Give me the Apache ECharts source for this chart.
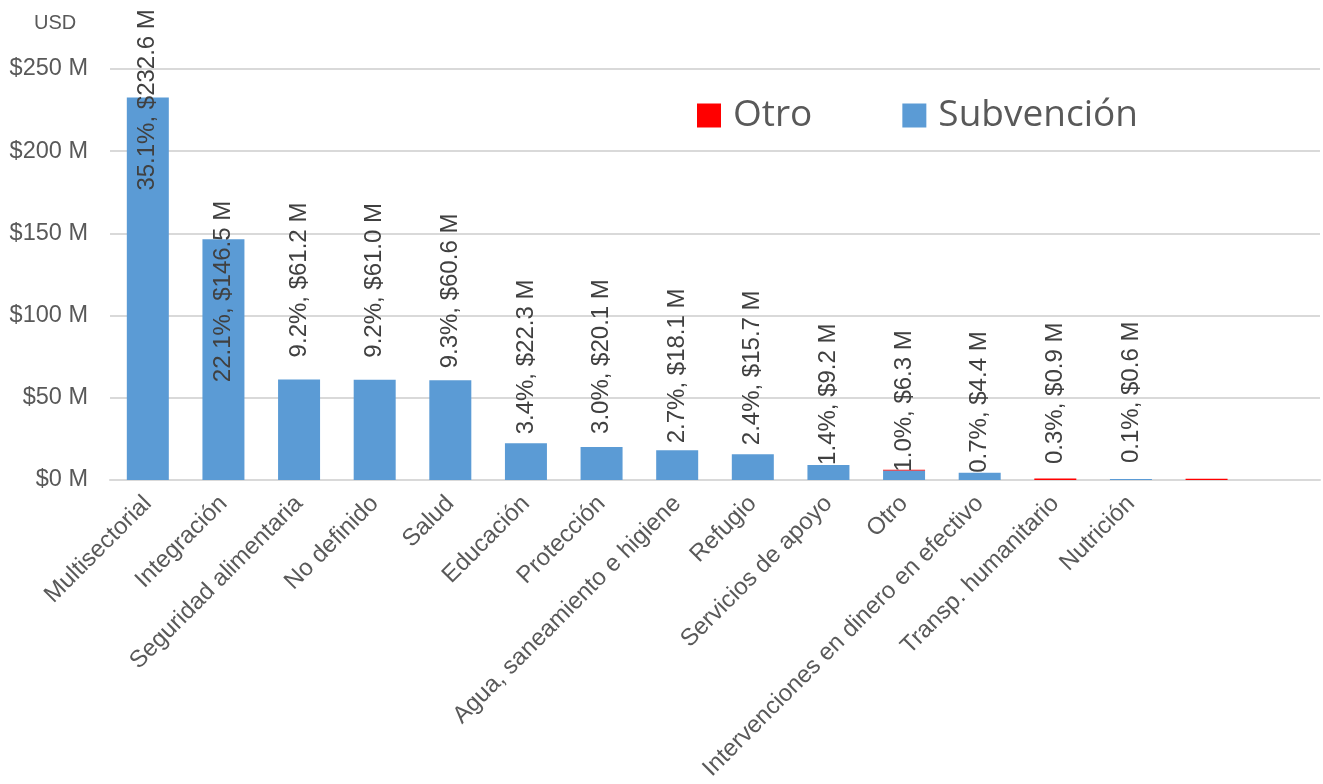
<!DOCTYPE html>
<html>
<head>
<meta charset="utf-8">
<script src="https://cdn.jsdelivr.net/npm/echarts@6/dist/echarts.min.js"></script>
<style>
  html, body { margin: 0; padding: 0; background: #ffffff; }
  #chart { width: 1323px; height: 784px; }
</style>
</head>
<body>
<div id="chart"></div>
<script>
// ---- data ----
const categories = [
  'Multisectorial', 'Integración', 'Seguridad alimentaria', 'No definido', 'Salud',
  'Educación', 'Protección', 'Agua, saneamiento e higiene', 'Refugio', 'Servicios de apoyo',
  'Otro', 'Intervenciones en dinero en efectivo', 'Transp. humanitario', 'Nutrición', '', ''
];
const subvencion = [232.6, 146.5, 61.2, 61.0, 60.6, 22.3, 20.1, 18.1, 15.7, 9.2, 5.7, 4.4, 0, 0.6, 0, 0];
const otro       = [0, 0, 0, 0, 0, 0, 0, 0, 0, 0, 0.6, 0, 0.9, 0, 0.7, 0];
const shares     = ['35.1%', '22.1%', '9.2%', '9.2%', '9.3%', '3.4%', '3.0%', '2.7%', '2.4%', '1.4%', '1.0%', '0.7%', '0.3%', '0.1%', '', ''];
const totals     = [232.6, 146.5, 61.2, 61.0, 60.6, 22.3, 20.1, 18.1, 15.7, 9.2, 6.3, 4.4, 0.9, 0.6, null, null];
const yTicks     = { min: 0, max: 250, interval: 50 };

// ---- label placement (style only) ----
const labelDistance = [-93, -143, 22, 22, 12, 9, 13, 7, 9, 0, -1, 0, 16, 16, 0, 0];

const AX = 'Liberation Sans, Arial, sans-serif';
const grey = '#595959';

const subData = subvencion.map((v, i) => ({
  value: v,
  label: { distance: labelDistance[i] }
}));

const chart = echarts.init(document.getElementById('chart'), null, { renderer: 'canvas' });
chart.setOption({
  animation: false,
  backgroundColor: '#ffffff',
  title: {
    text: 'USD', left: 29, top: 8,
    textStyle: { fontFamily: AX, fontSize: 20, fontWeight: 'normal', color: grey }
  },
  legend: {
    data: ['Otro', 'Subvención'],
    left: 692, top: 92,
    icon: 'rect', itemWidth: 24, itemHeight: 24, itemGap: 90,
    selectedMode: false,
    textStyle: { fontFamily: 'Open Sans, sans-serif', fontSize: 37, color: grey, padding: [0, 0, 0, 7] }
  },
  grid: { left: 110, right: 3, top: 69, bottom: 304, containLabel: false },
  xAxis: {
    type: 'category',
    data: categories,
    axisTick: { show: false },
    axisLine: { lineStyle: { color: '#d9d9d9', width: 2 } },
    axisLabel: { rotate: 45, interval: 0, margin: 20, fontFamily: AX, fontSize: 24, color: grey }
  },
  yAxis: {
    type: 'value',
    min: yTicks.min, max: yTicks.max, interval: yTicks.interval,
    axisLine: { show: false }, axisTick: { show: false },
    splitLine: { lineStyle: { color: '#d9d9d9', width: 2 } },
    axisLabel: { margin: 22, fontFamily: AX, fontSize: 23.5, color: grey, formatter: v => '$' + v + ' M' }
  },
  series: [
    {
      name: 'Subvención', type: 'bar', stack: 'total', barWidth: 42,
      itemStyle: { color: '#5b9bd5' },
      data: subData,
      label: {
        show: true, position: 'top', rotate: 90, align: 'left', verticalAlign: 'middle',
        fontFamily: AX, fontSize: 24, color: '#404040',
        formatter: p => shares[p.dataIndex] ? shares[p.dataIndex] + ', $' + totals[p.dataIndex].toFixed(1) + ' M' : ''
      },
      z: 2
    },
    {
      name: 'Otro', type: 'bar', stack: 'total', barWidth: 42,
      itemStyle: { color: '#ff0000' },
      data: otro,
      z: 1
    }
  ]
});
</script>
</body>
</html>
